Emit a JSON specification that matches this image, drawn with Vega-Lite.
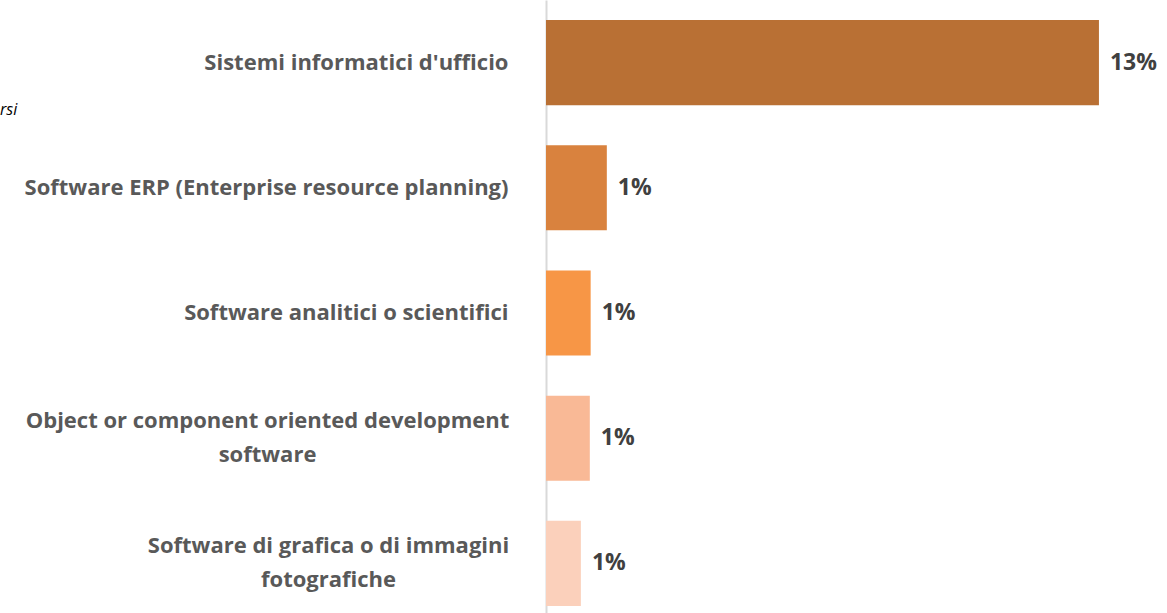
{
  "$schema": "https://vega.github.io/schema/vega-lite/v6.json",
  "autosize": "none",
  "width": 621,
  "height": 626,
  "padding": {"left": 546, "top": 0, "right": 0, "bottom": 0},
  "background": "white",
  "title": {
    "text": "rsi",
    "anchor": "start",
    "frame": "group",
    "orient": "top",
    "dx": -546,
    "dy": 131,
    "offset": 0,
    "baseline": "alphabetic",
    "font": "Open Sans",
    "fontStyle": "italic",
    "fontWeight": "normal",
    "fontSize": 16,
    "color": "#000000"
  },
  "data": {
    "values": [
      {"categoria": "Sistemi informatici d'ufficio", "valore": 13.0, "etichetta": "13%", "colore": "#B97034"},
      {"categoria": "Software ERP (Enterprise resource planning)", "valore": 1.43, "etichetta": "1%", "colore": "#D9823E"},
      {"categoria": "Software analitici o scientifici", "valore": 1.05, "etichetta": "1%", "colore": "#F79646"},
      {"categoria": "Object or component oriented development software", "valore": 1.03, "etichetta": "1%", "colore": "#F9B996"},
      {"categoria": "Software di grafica o di immagini fotografiche", "valore": 0.82, "etichetta": "1%", "colore": "#FBD0BB"}
    ]
  },
  "encoding": {
    "y": {
      "field": "categoria",
      "type": "nominal",
      "sort": null,
      "scale": {"paddingInner": 0.32, "paddingOuter": 0.16},
      "axis": {
        "title": null,
        "ticks": false,
        "domain": true,
        "domainColor": "#D9D9D9",
        "domainWidth": 2,
        "labelFont": "Open Sans",
        "labelFontWeight": "bold",
        "labelFontSize": 22,
        "labelColor": "#595959",
        "labelLimit": 700,
        "labelLineHeight": 34,
        "labelAlign": {
          "condition": {"test": "indexof(datum.value, 'development') >= 0 || indexof(datum.value, 'fotografiche') >= 0", "value": "center"},
          "value": "right"
        },
        "labelPadding": {
          "condition": [
            {"test": "indexof(datum.value, 'development') >= 0", "value": 279},
            {"test": "indexof(datum.value, 'fotografiche') >= 0", "value": 218}
          ],
          "value": 38
        },
        "labelOffset": {
          "condition": {"test": "indexof(datum.value, 'development') >= 0 || indexof(datum.value, 'fotografiche') >= 0", "value": -17},
          "value": 0
        },
        "labelExpr": "datum.value == 'Object or component oriented development software' ? ['Object or component oriented development', 'software'] : datum.value == 'Software di grafica o di immagini fotografiche' ? ['Software di grafica o di immagini', 'fotografiche'] : datum.value"
      }
    },
    "x": {
      "field": "valore",
      "type": "quantitative",
      "scale": {"domain": [0, 14.6], "nice": false},
      "axis": null
    }
  },
  "layer": [
    {
      "mark": {"type": "bar"},
      "encoding": {
        "color": {"field": "colore", "type": "nominal", "scale": null}
      }
    },
    {
      "mark": {"type": "text", "align": "left", "baseline": "middle", "dx": 11, "font": "Open Sans", "fontWeight": "bold", "fontSize": 23, "color": "#404040"},
      "encoding": {
        "text": {"field": "etichetta"}
      }
    }
  ],
  "config": {"view": {"stroke": null}}
}
